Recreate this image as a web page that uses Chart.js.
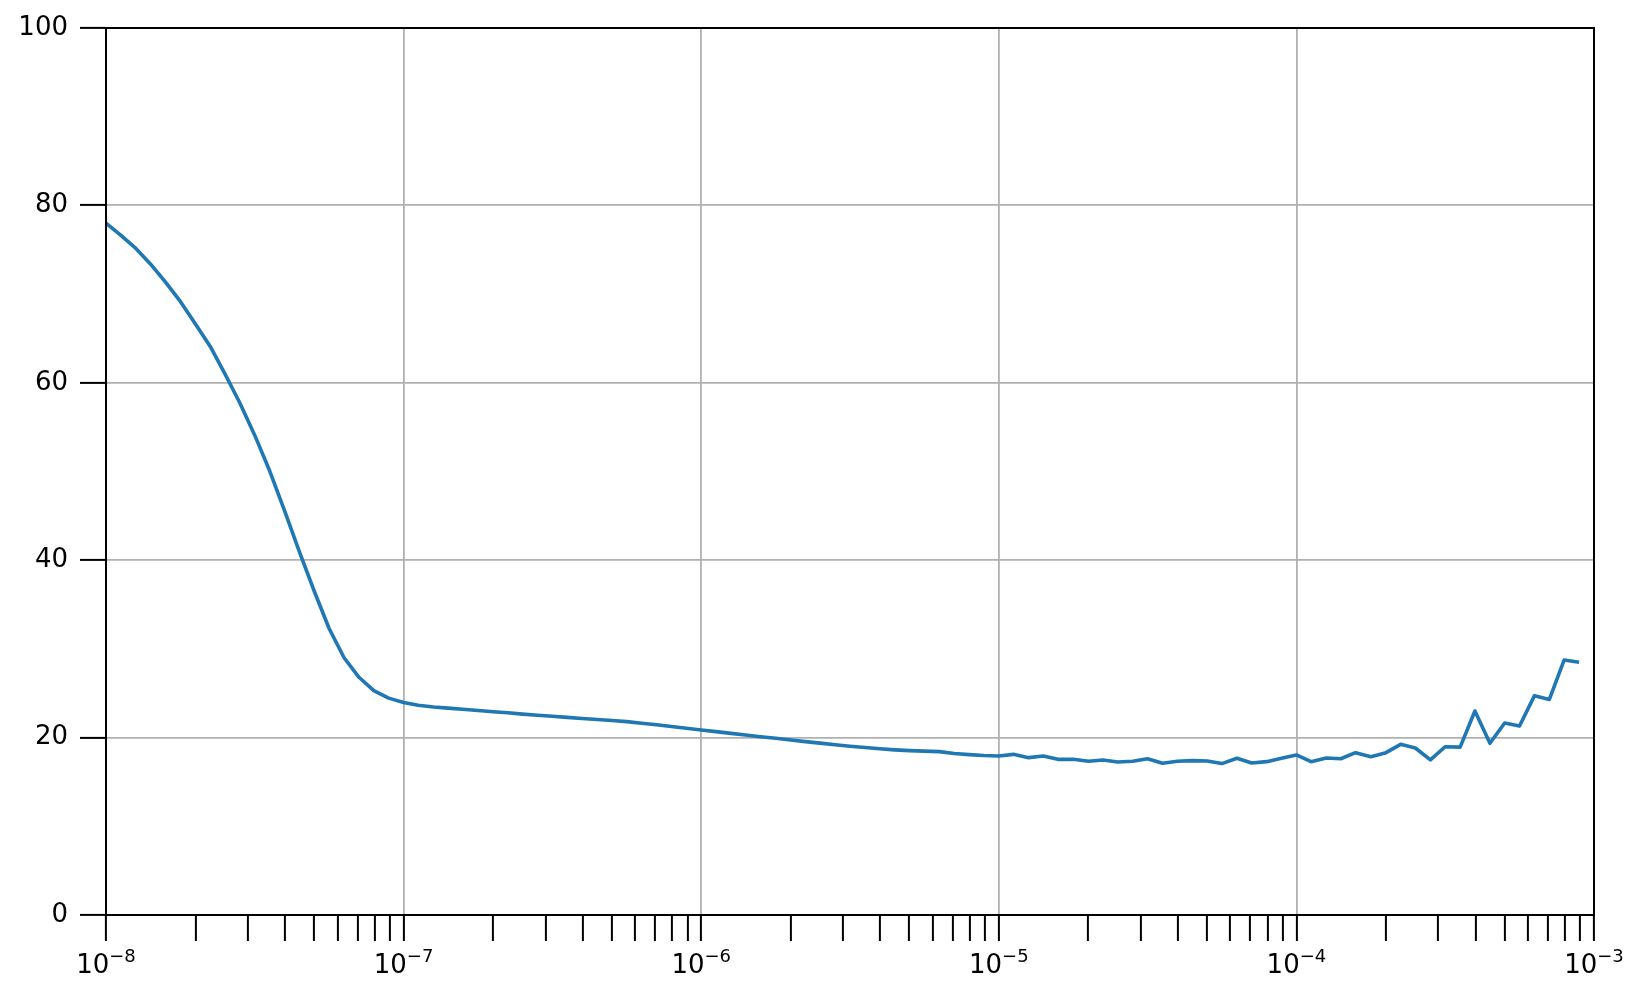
<!DOCTYPE html>
<html>
<head>
<meta charset="utf-8">
<script src="https://cdn.jsdelivr.net/npm/chart.js@4.4.1/dist/chart.umd.min.js"></script>
<style>
  body { margin: 0; background: #fff; }
  #wrap { width: 1644px; height: 999px; }
</style>
</head>
<body>
<div id="wrap"><canvas id="lossChart" width="1644" height="999"></canvas></div>
<script>
// learning rate per epoch (x) and loss (y)
const learningRates = [
  1.00e-8, 1.12e-8, 1.26e-8, 1.41e-8, 1.58e-8, 1.78e-8, 2.00e-8, 2.24e-8, 2.51e-8, 2.82e-8,
  3.16e-8, 3.55e-8, 3.98e-8, 4.47e-8, 5.01e-8, 5.62e-8, 6.31e-8, 7.08e-8, 7.94e-8, 8.91e-8,
  1.00e-7, 1.12e-7, 1.26e-7, 1.41e-7, 1.58e-7, 1.78e-7, 2.00e-7, 2.24e-7, 2.51e-7, 2.82e-7,
  3.16e-7, 3.55e-7, 3.98e-7, 4.47e-7, 5.01e-7, 5.62e-7, 6.31e-7, 7.08e-7, 7.94e-7, 8.91e-7,
  1.00e-6, 1.12e-6, 1.26e-6, 1.41e-6, 1.58e-6, 1.78e-6, 2.00e-6, 2.24e-6, 2.51e-6, 2.82e-6,
  3.16e-6, 3.55e-6, 3.98e-6, 4.47e-6, 5.01e-6, 5.62e-6, 6.31e-6, 7.08e-6, 7.94e-6, 8.91e-6,
  1.00e-5, 1.12e-5, 1.26e-5, 1.41e-5, 1.58e-5, 1.78e-5, 2.00e-5, 2.24e-5, 2.51e-5, 2.82e-5,
  3.16e-5, 3.55e-5, 3.98e-5, 4.47e-5, 5.01e-5, 5.62e-5, 6.31e-5, 7.08e-5, 7.94e-5, 8.91e-5,
  1.00e-4, 1.12e-4, 1.26e-4, 1.41e-4, 1.58e-4, 1.78e-4, 2.00e-4, 2.24e-4, 2.51e-4, 2.82e-4,
  3.16e-4, 3.55e-4, 3.98e-4, 4.47e-4, 5.01e-4, 5.62e-4, 6.31e-4, 7.08e-4, 7.94e-4, 8.91e-4
];
const losses = [
  78.0, 76.65, 75.15, 73.4, 71.4, 69.15, 66.6, 64.1, 61.0, 57.7,
  54.1, 50.05, 45.6, 40.9, 36.5, 32.3, 29.0, 26.8, 25.3, 24.45,
  23.95, 23.65, 23.45, 23.32, 23.2, 23.05, 22.92, 22.8, 22.65, 22.52,
  22.4, 22.28, 22.16, 22.04, 21.92, 21.8, 21.62, 21.44, 21.25, 21.05,
  20.86, 20.67, 20.48, 20.3, 20.1, 19.92, 19.73, 19.55, 19.38, 19.2,
  19.03, 18.88, 18.74, 18.62, 18.53, 18.47, 18.42, 18.2, 18.08, 17.98,
  17.93, 18.11, 17.74, 17.93, 17.55, 17.55, 17.33, 17.48, 17.25, 17.33,
  17.62, 17.1, 17.33, 17.4, 17.37, 17.07, 17.67, 17.14, 17.29, 17.67,
  18.04, 17.29, 17.7, 17.62, 18.3, 17.85, 18.3, 19.24, 18.83, 17.48,
  18.97, 18.93, 23.0, 19.36, 21.65, 21.3, 24.73, 24.3, 28.75, 28.5
];

// axis ticks
const decadeExps = [-8, -7, -6, -5, -4, -3];
const minorSteps = [1, 2, 3, 4, 5, 6, 7, 8, 9];
const yTicks = [0, 20, 40, 60, 80, 100];

const xTickValues = [];
for (let e of decadeExps.slice(0, -1)) {
  for (let m of minorSteps) xTickValues.push(m * Math.pow(10, e));
}
xTickValues.push(1e-3);

function isDecade(v) {
  const l = Math.log10(v);
  return Math.abs(l - Math.round(l)) < 1e-6;
}

const FONT = '"DejaVu Sans", sans-serif';

// box around plot + "10^-n" labels under the decades
const framePlugin = {
  id: "framePlugin",
  afterDraw(chart) {
    const { ctx, chartArea: a } = chart;
    const xs = chart.scales.x;
    ctx.save();
    ctx.strokeStyle = "#000";
    ctx.lineWidth = 2;
    ctx.strokeRect(a.left, a.top, a.right - a.left, a.bottom - a.top);
    ctx.fillStyle = "#000";
    ctx.textBaseline = "alphabetic";
    ctx.textAlign = "left";
    for (let e of decadeExps) {
      const px = xs.getPixelForValue(Math.pow(10, e));
      const base = "10";
      const sup = "\u2212" + Math.abs(e);
      ctx.font = "26px " + FONT;
      const w1 = ctx.measureText(base).width;
      ctx.font = "18px " + FONT;
      const w2 = ctx.measureText(sup).width;
      const left = px - (w1 + w2) / 2;
      ctx.font = "26px " + FONT;
      ctx.fillText(base, left, a.bottom + 58);
      ctx.font = "18px " + FONT;
      ctx.fillText(sup, left + w1, a.bottom + 47);
    }
    ctx.restore();
  },
};

const config = {
  type: "line",
  data: {
    datasets: [
      {
        label: "loss",
        data: learningRates.map((lr, i) => ({ x: lr, y: losses[i] })),
        borderColor: "#1f77b4",
        borderWidth: 3.6,
        borderJoinStyle: "round",
        pointRadius: 0,
        tension: 0,
        fill: false,
      },
    ],
  },
  options: {
    responsive: false,
    animation: false,
    events: [],
    layout: { padding: { top: 28, right: 50, left: 0, bottom: 0 } },
    plugins: {
      legend: { display: false },
      tooltip: { enabled: false },
    },
    scales: {
      x: {
        type: "logarithmic",
        min: 1e-8,
        max: 1e-3,
        afterBuildTicks: (scale) => {
          scale.ticks = xTickValues.map((v) => ({ value: v, major: isDecade(v) }));
        },
        afterFit: (scale) => {
          scale.height = 84;
        },
        ticks: { display: false, autoSkip: false },
        grid: {
          color: (c) => (c.tick && isDecade(c.tick.value) ? "#b0b0b0" : "rgba(0,0,0,0)"),
          lineWidth: 1.8,
          tickColor: "#000",
          tickWidth: 2,
          tickLength: 26,
        },
        border: { color: "#000", width: 2 },
      },
      y: {
        min: 0,
        max: 100,
        afterBuildTicks: (scale) => {
          scale.ticks = yTicks.map((v) => ({ value: v }));
        },
        afterFit: (scale) => {
          scale.width = 106;
        },
        ticks: {
          color: "#000",
          padding: 12,
          font: { family: FONT, size: 26 },
        },
        grid: {
          color: "#b0b0b0",
          lineWidth: 1.8,
          tickColor: "#000",
          tickWidth: 2,
          tickLength: 26,
        },
        border: { color: "#000", width: 2 },
      },
    },
  },
  plugins: [framePlugin],
};

var lossChart = new Chart(document.getElementById("lossChart"), config);
</script>
</body>
</html>
